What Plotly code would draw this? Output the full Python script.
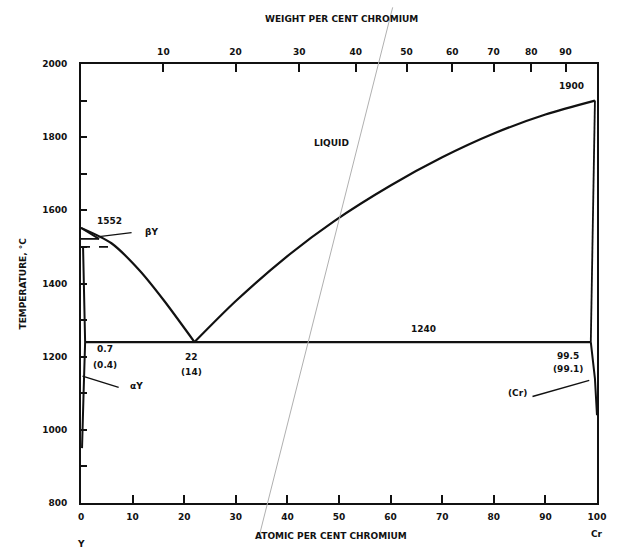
import plotly.graph_objects as go

# ---------------- data ----------------
# atomic % Cr vs temperature (deg C)
liq_y_side_x = [0, 5.9, 11.4, 16, 22]
liq_y_side_t = [1552, 1510, 1435, 1355, 1240]

liq_cr_side_x = [22, 30, 40, 49, 60, 70, 80, 90, 99.6]
liq_cr_side_t = [1240, 1352, 1475, 1570, 1668, 1745, 1810, 1862, 1900]

eutectic_x = [0.8, 98.8]
eutectic_t = [1240, 1240]

beta_solidus_x = [0, 3.5]
beta_solidus_t = [1552, 1522]
beta_flat_x = [0, 3.5]
beta_flat_t = [1522, 1522]
beta_alpha_x = [0, 5.5]
beta_alpha_t = [1500, 1500]

alpha_solvus_x = [0.4, 0.8, 0.5, 0.2]
alpha_solvus_t = [1500, 1240, 1100, 950]

cr_solidus_x = [99.6, 98.8]
cr_solidus_t = [1900, 1240]
cr_solvus_x = [98.8, 99.6, 100]
cr_solvus_t = [1240, 1140, 1040]

# leader lines of labels
lead_beta_x = [9.8, 3.5]
lead_beta_t = [1539, 1528]
lead_alpha_x = [7.3, 0.3]
lead_alpha_t = [1116, 1147]
lead_cr_x = [87.5, 98.5]
lead_cr_t = [1091, 1135]

# axes
atomic_ticks = [0, 10, 20, 30, 40, 50, 60, 70, 80, 90, 100]
temp_ticks = [800, 1000, 1200, 1400, 1600, 1800, 2000]
weight_ticks = [10, 20, 30, 40, 50, 60, 70, 80, 90]
M_CR, M_Y = 51.996, 88.906

# labels: (text, atomic %, temperature)
labels_text = ["1552", "\u03b2Y", "LIQUID", "1240", "0.7", "(0.4)", "22", "(14)",
               "\u03b1Y", "99.5", "(99.1)", "(Cr)", "1900"]
labels_x = [5.5, 13.6, 48.5, 66.4, 4.7, 4.7, 21.4, 21.4, 10.7, 94.4, 94.4, 84.5, 95]
labels_t = [1571, 1542, 1785, 1275, 1221, 1178, 1199, 1158, 1120, 1202, 1167, 1101, 1940]

# faint pencil stroke on the scan (paper fractions)
pencil_x = [0.604, 0.345]
pencil_y = [1.129, -0.077]


def wt_to_at(w):
    a = w / M_CR
    b = (100 - w) / M_Y
    return 100 * a / (a + b)


FONT = dict(family="DejaVu Sans", size=9, color="#111111", weight="bold")

fig = go.Figure()


def add_line(xs, ts, dash=None, width=2.2, shape="linear"):
    fig.add_trace(go.Scatter(x=xs, y=ts, mode="lines", showlegend=False,
                             hoverinfo="skip",
                             line=dict(color="#111111", width=width,
                                       dash=dash, shape=shape,
                                       smoothing=0.8)))


add_line(liq_y_side_x, liq_y_side_t, shape="spline")
add_line(liq_cr_side_x, liq_cr_side_t, shape="spline")
add_line(eutectic_x, eutectic_t)
add_line(beta_solidus_x, beta_solidus_t, width=1.8)
add_line(beta_flat_x, beta_flat_t, width=1.8)
add_line(beta_alpha_x, beta_alpha_t, dash="dash", width=1.8)
add_line(alpha_solvus_x, alpha_solvus_t, width=2)
add_line(cr_solidus_x, cr_solidus_t, width=1.8)
add_line(cr_solvus_x, cr_solvus_t, width=2)
add_line(lead_beta_x, lead_beta_t, width=1.4)
add_line(lead_alpha_x, lead_alpha_t, width=1.4)
add_line(lead_cr_x, lead_cr_t, width=1.4)

# invisible trace for top axis
fig.add_trace(go.Scatter(x=[0, 100], y=[800, 800], mode="lines",
                         line=dict(width=0), xaxis="x2", showlegend=False,
                         hoverinfo="skip"))

for t, xv, tv in zip(labels_text, labels_x, labels_t):
    fig.add_annotation(x=xv, y=tv, text=t, showarrow=False, font=FONT)

# element symbols and axis titles
fig.add_annotation(x=0, y=0, xref="x", yref="paper", text="Y", showarrow=False,
                   font=FONT, yshift=-48)
fig.add_annotation(x=100, y=0, xref="x", yref="paper", text="Cr", showarrow=False,
                   font=FONT, yshift=-38)
fig.add_annotation(x=0.485, y=0, xref="paper", yref="paper",
                   text="ATOMIC PER CENT CHROMIUM", showarrow=False,
                   font=FONT, yshift=-40)
fig.add_annotation(x=0.505, y=1, xref="paper", yref="paper",
                   text="WEIGHT PER CENT CHROMIUM", showarrow=False,
                   font=FONT, yshift=52)
fig.add_annotation(x=0, y=0.5, xref="paper", yref="paper",
                   text="TEMPERATURE, \u00b0C", showarrow=False, textangle=-90,
                   font=FONT, xshift=-66)

fig.add_shape(type="line", xref="paper", yref="paper",
              x0=pencil_x[0], y0=pencil_y[0], x1=pencil_x[1], y1=pencil_y[1],
              line=dict(color="#b0b0b0", width=1))

fig.update_layout(
    width=618, height=548,
    margin=dict(l=81, r=13, t=64, b=45),
    paper_bgcolor="white", plot_bgcolor="white",
    xaxis=dict(range=[0, 100], tickvals=atomic_ticks,
               ticktext=[str(v) for v in atomic_ticks],
               showline=True, linecolor="#111111", linewidth=2,
               ticks="inside", ticklen=8, tickwidth=1.5, tickcolor="#111111",
               showgrid=False, zeroline=False, tickfont=FONT,
               ticklabelstandoff=4),
    xaxis2=dict(range=[0, 100], overlaying="x", side="top", anchor="y",
                tickvals=[wt_to_at(w) for w in weight_ticks],
                ticktext=[str(w) for w in weight_ticks],
                showline=True, linecolor="#111111", linewidth=2,
                ticks="inside", ticklen=8, tickwidth=1.5, tickcolor="#111111",
                showgrid=False, zeroline=False, tickfont=FONT,
                ticklabelstandoff=3),
    yaxis=dict(range=[800, 2000], tickvals=temp_ticks,
               ticktext=[str(v) for v in temp_ticks],
               showline=True, mirror=True, linecolor="#111111", linewidth=2,
               ticks="inside", ticklen=6, tickwidth=1.5, tickcolor="#111111",
               minor=dict(ticks="inside", ticklen=6, dtick=100,
                          tickcolor="#111111", tickwidth=1.5),
               showgrid=False, zeroline=False, tickfont=FONT,
               ticklabelstandoff=10),
)

fig.write_html("out.html")
